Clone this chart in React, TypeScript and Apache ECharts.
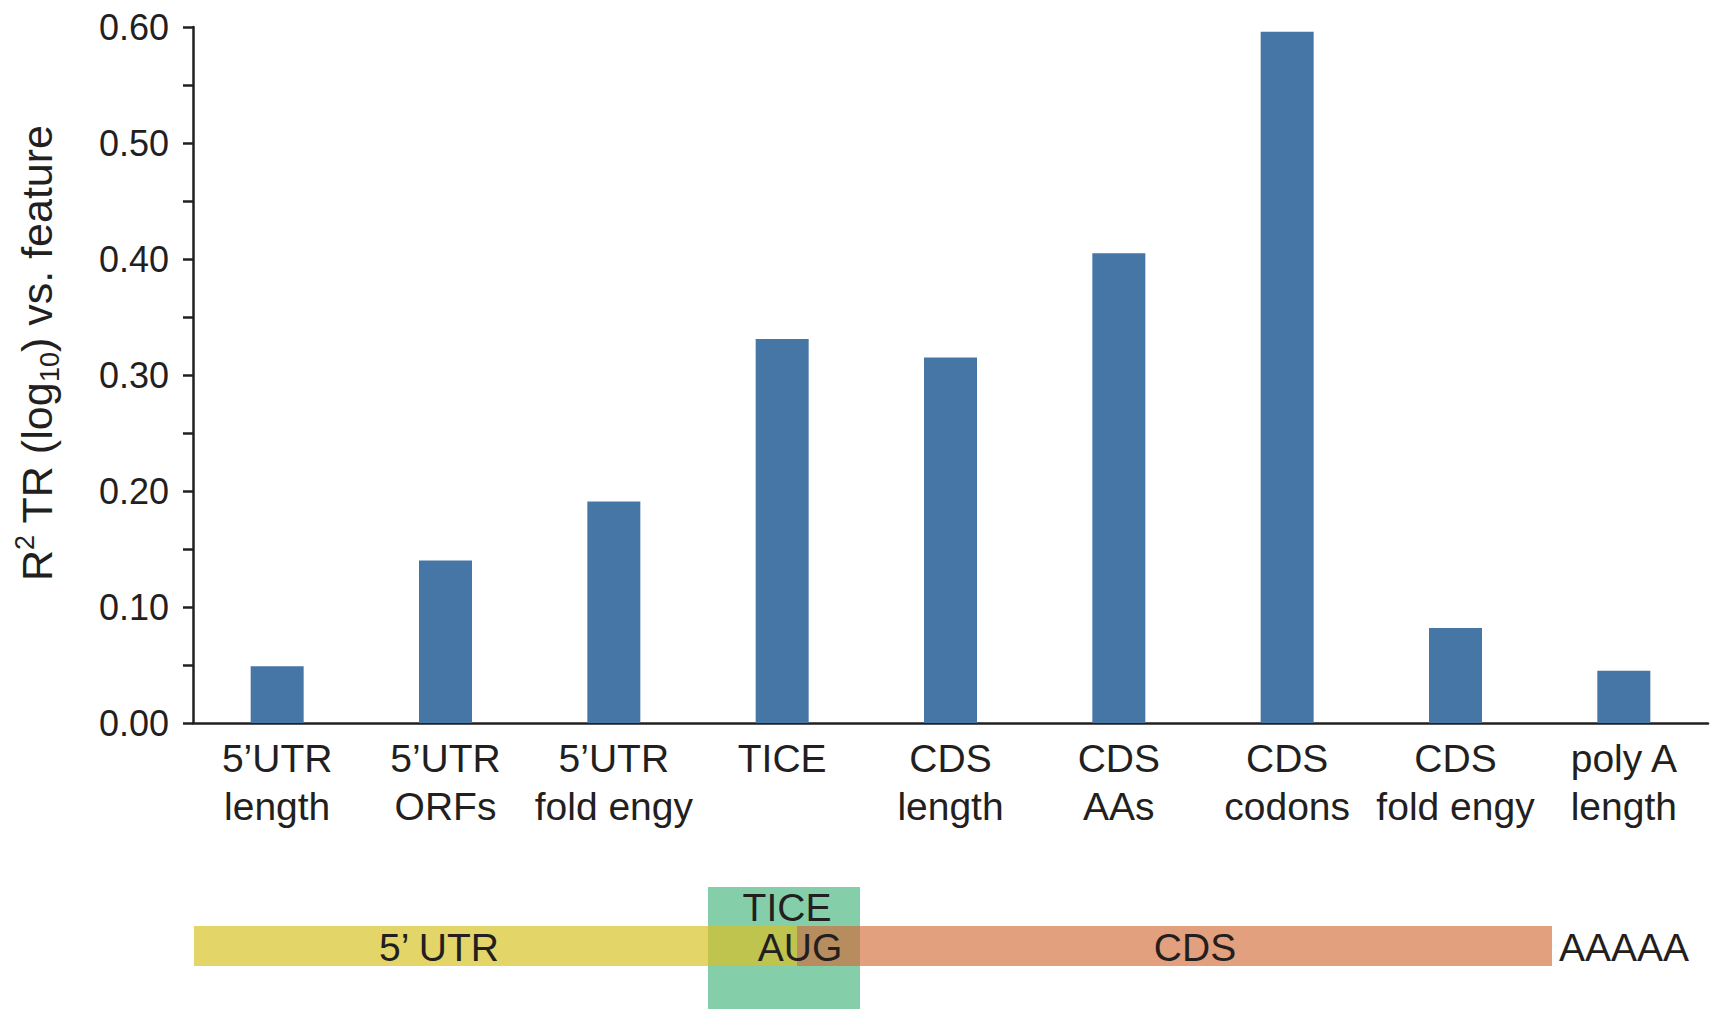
import { useEffect, useRef } from "react";
import * as echarts from "echarts";

const categories = [
  "5\u2019UTR\nlength",
  "5\u2019UTR\nORFs",
  "5\u2019UTR\nfold engy",
  "TICE",
  "CDS\nlength",
  "CDS\nAAs",
  "CDS\ncodons",
  "CDS\nfold engy",
  "poly A\nlength",
];

const r2Values = [0.049, 0.14, 0.191, 0.331, 0.315, 0.405, 0.596, 0.082, 0.045];

const yTitle = "{b|R}{sup|2}{b| TR (log}{sub|10}{b|) vs. feature}";

const schematicLabels = ["5\u2019 UTR", "TICE", "AUG", "CDS", "AAAAA"];

const INK = "#231f20";
const FONT = "'Liberation Sans', Arial, Helvetica, sans-serif";

const label = (text: string, x: number, y: number, align = "center") => ({
  type: "text",
  x,
  y,
  z: 10,
  style: {
    text,
    fill: INK,
    fontSize: 39,
    fontFamily: FONT,
    align,
    verticalAlign: "middle",
  },
});

export default function App() {
  const ref = useRef<HTMLDivElement>(null);

  useEffect(() => {
    document.body.style.margin = "0";
    if (!ref.current) return;
    const chart = echarts.init(ref.current, undefined, { renderer: "svg" });

    const axisLine = { color: INK, width: 2.5 };

    chart.setOption({
      animation: false,
      textStyle: { fontFamily: FONT },
      grid: { left: 193, right: 14, top: 27, bottom: 286 },
      xAxis: {
        type: "category",
        data: categories,
        axisLine: { lineStyle: axisLine },
        axisTick: { show: false },
        axisLabel: {
          color: INK,
          fontSize: 39,
          lineHeight: 48,
          margin: 11,
          interval: 0,
          fontFamily: FONT,
        },
      },
      yAxis: {
        type: "value",
        min: 0,
        max: 0.6,
        interval: 0.1,
        axisLine: { show: true, lineStyle: axisLine },
        axisTick: { show: true, length: 10, lineStyle: axisLine },
        minorTick: { show: true, splitNumber: 2, length: 10, lineStyle: axisLine },
        splitLine: { show: false },
        axisLabel: {
          color: INK,
          fontSize: 36,
          margin: 24,
          fontFamily: FONT,
          formatter: (v: number) => v.toFixed(2),
        },
      },
      series: [
        {
          type: "bar",
          data: r2Values,
          barWidth: 53,
          itemStyle: { color: "#4676a5" },
        },
      ],
      graphic: [
        {
          type: "text",
          x: 37,
          y: 353,
          rotation: Math.PI / 2,
          style: {
            text: yTitle,
            fill: INK,
            fontFamily: FONT,
            align: "center",
            verticalAlign: "middle",
            rich: {
              b: { fontSize: 43, lineHeight: 52, fill: INK, fontFamily: FONT },
              sup: { fontSize: 27, lineHeight: 34, verticalAlign: "top", fill: INK, fontFamily: FONT },
              sub: { fontSize: 27, lineHeight: 34, verticalAlign: "bottom", fill: INK, fontFamily: FONT },
            },
          },
        },
        // transcript schematic
        { type: "rect", z: 1, shape: { x: 194, y: 926, width: 603, height: 40 }, style: { fill: "#e3d567" } },
        { type: "rect", z: 1, shape: { x: 797, y: 926, width: 755, height: 40 }, style: { fill: "#e3a07f" } },
        { type: "rect", z: 2, shape: { x: 708, y: 887, width: 152, height: 122 }, style: { fill: "#84cfa9" } },
        { type: "rect", z: 3, shape: { x: 708, y: 926, width: 89, height: 40 }, style: { fill: "#bfc44e" } },
        { type: "rect", z: 3, shape: { x: 797, y: 926, width: 63, height: 40 }, style: { fill: "#b78d5f" } },
        label(schematicLabels[0], 439, 947),
        label(schematicLabels[1], 787, 907),
        label(schematicLabels[2], 800, 947),
        label(schematicLabels[3], 1195, 947),
        label(schematicLabels[4], 1559, 947, "left"),
      ],
    });

    return () => {
      chart.dispose();
    };
  }, []);

  return <div ref={ref} style={{ width: 1722, height: 1009 }} />;
}
